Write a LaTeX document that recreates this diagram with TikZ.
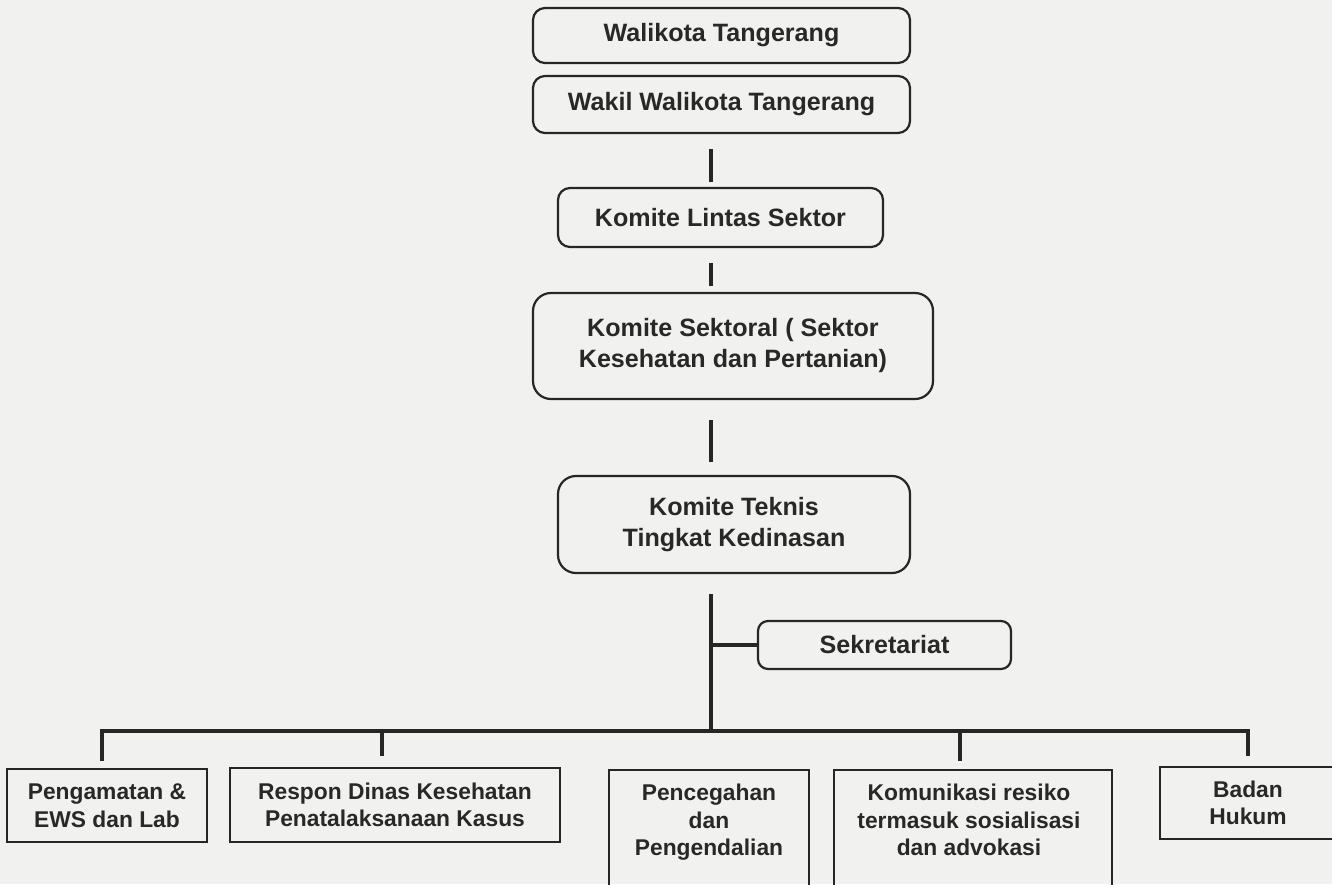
\documentclass[tikz,border=0pt]{standalone}
\usepackage{fontspec}
\setmainfont{Liberation Sans}
\definecolor{bgcol}{RGB}{241,241,239}
\definecolor{linecol}{RGB}{38,38,38}
\definecolor{txtcol}{RGB}{40,40,40}
\newcommand\topfont{\fontsize{25.1}{31}\bfseries\selectfont}
\newcommand\botfont{\fontsize{22.8}{27.5}\bfseries\selectfont}
\tikzset{
  rbox/.style={draw=linecol, line width=2.2pt, rounded corners=12pt, inner sep=0pt, align=center, font=\topfont, text=txtcol},
  sbox/.style={draw=linecol, line width=2.2pt, inner sep=0pt, align=center, font=\botfont, text=txtcol},
  btext/.style={inner sep=0pt, align=center, font=\botfont, text=txtcol},
  conn/.style={draw=linecol, line width=3.5pt}
}
\begin{document}
\begin{tikzpicture}[x=1pt,y=-1pt]
\useasboundingbox (0,0) rectangle (1332,884);
\fill[bgcol] (0,0) rectangle (1332,884);
\clip (0,0) rectangle (1332,884);

\node[rbox, minimum width=377pt, minimum height=55pt] (wali) at (721.5,35.5) {Walikota Tangerang};
\node[rbox, minimum width=377pt, minimum height=57pt] (wakil) at (721.5,104.5) {Wakil Walikota Tangerang};
\node[rbox, minimum width=325pt, minimum height=59pt] (lintas) at (720.5,217.5) {Komite Lintas Sektor};
\node[rbox, rounded corners=18pt, minimum width=400pt, minimum height=106pt] (sektoral) at (733,346) {Komite Sektoral ( Sektor\\Kesehatan dan Pertanian)};
\node[rbox, rounded corners=18pt, minimum width=352pt, minimum height=97pt] (teknis) at (734,524.5) {Komite Teknis\\Tingkat Kedinasan};
\node[rbox, rounded corners=10pt, minimum width=253pt, minimum height=48pt] (sek) at (884.5,645) {Sekretariat};

\node[sbox, minimum width=200pt, minimum height=73pt] (b1) at (107,805.5) {Pengamatan \&\\EWS dan Lab};
\node[sbox, minimum width=330pt, minimum height=74pt] (b2) at (395,805) {Respon Dinas Kesehatan\\Penatalaksanaan Kasus};
\node[sbox, minimum width=200pt, minimum height=140pt, anchor=north] (b3) at (709,769) {};
\node[btext, anchor=north] (b3t) at ([yshift=-15pt]b3.north) {Pencegahan\\dan\\Pengendalian};
\node[sbox, minimum width=278pt, minimum height=140pt, anchor=north] (b4) at (973,769) {};
\node[btext, anchor=north] (b4t) at ([yshift=-15pt,xshift=-4pt]b4.north) {Komunikasi resiko\\termasuk sosialisasi\\dan advokasi};
\node[sbox, minimum width=176pt, minimum height=72pt] (b5) at (1248,803) {Badan\\Hukum};

\coordinate (mx) at (711,0);
\coordinate (d1) at (102,731);
\coordinate (d2) at (382,731);
\coordinate (dm) at (711,731);
\coordinate (d4) at (960,731);
\coordinate (d5) at (1248,731);

\draw[conn, shorten <=15pt, shorten >=5pt] (wakil.south -| mx) -- (lintas.north -| mx);
\draw[conn, shorten <=15pt, shorten >=6pt] (lintas.south -| mx) -- (sektoral.north -| mx);
\draw[conn, shorten <=20pt, shorten >=13pt] (sektoral.south -| mx) -- (teknis.north -| mx);
\draw[conn, shorten <=20pt] (teknis.south -| mx) -- (dm);
\draw[conn] (sek.west -| mx) -- (sek.west);

\draw[conn, shorten <=7pt, shorten >=10pt] (b1.north -| d1) -- (d1) -- (d5) -- (b5.north -| d5);
\draw[conn, shorten >=11pt] (d2) -- (b2.north -| d2);
\draw[conn, shorten >=8pt] (d4) -- (b4.north -| d4);
\end{tikzpicture}
\end{document}
